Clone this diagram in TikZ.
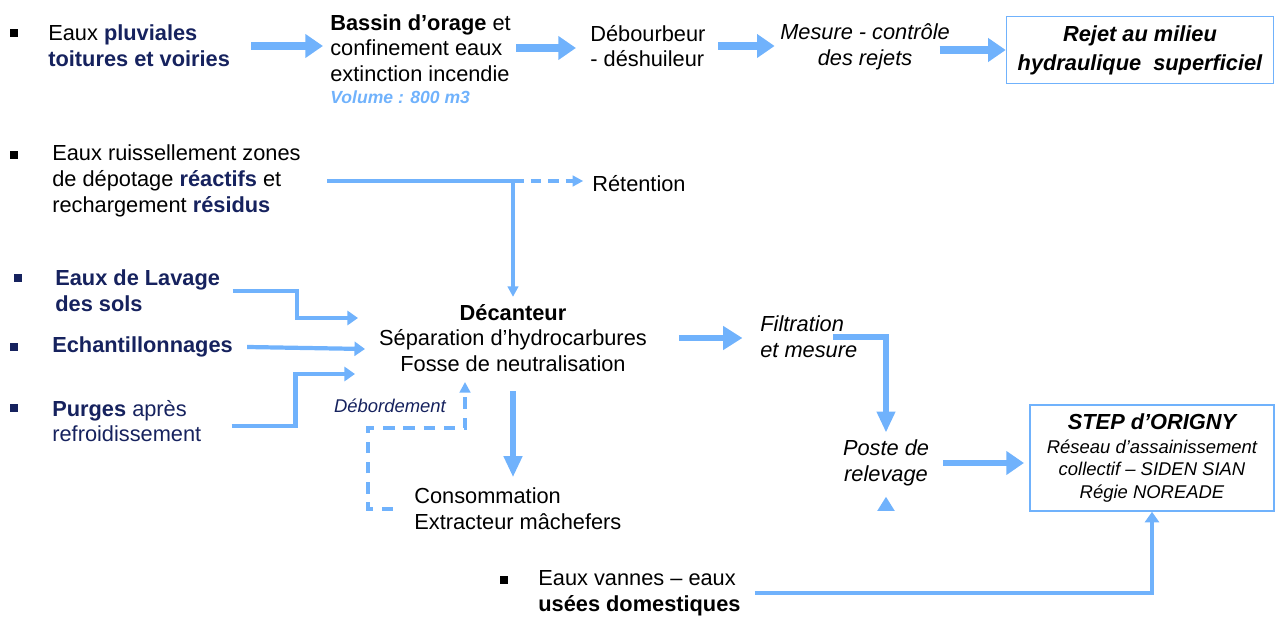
\documentclass[tikz,border=0pt]{standalone}
\usepackage{fontspec}
\setmainfont{Liberation Sans}
\usetikzlibrary{arrows.meta}
\definecolor{flow}{RGB}{112,178,252}
\definecolor{navy}{RGB}{22,34,94}
\tikzset{
    txt/.style={font=\fontsize{12.4}{14.6}\selectfont, align=left, inner sep=0pt, anchor=west},
    ctxt/.style={font=\fontsize{12.4}{14.6}\selectfont\itshape, align=center, inner sep=0pt},
    bul/.style={fill, minimum size=5pt, inner sep=0pt},
    fat/.style={flow, line width=4pt, -{Triangle[length=10pt,width=13pt]}},
    heavy/.style={flow, line width=3pt, -{Triangle[length=12pt,width=10pt]}},
    mid/.style={flow, line width=2.4pt, -{Triangle[length=6pt,width=8pt]}},
    slim/.style={flow, line width=1.8pt, -{Triangle[length=6pt,width=6pt]}},
    box/.style={draw=flow, line width=0.9pt, inner sep=0pt, align=center}
}
\begin{document}
\begin{tikzpicture}[x=0.02cm,y=-0.02cm]
    \useasboundingbox (0,0) rectangle (1275,621);
    % top line
    \node[bul] (b1) at (14,33) {};
    \node[txt] (pluv) at (48,46) {Eaux {\bfseries\color{navy}pluviales}\\{\bfseries\color{navy}toitures et voiries}};
    \node[txt] (bassin) at (330,48) {\textbf{Bassin d'orage} et\\confinement eaux\\extinction incendie};
    \node[txt, font=\fontsize{10}{12}\selectfont\bfseries\itshape, text=flow] (vol) at (330,97) {Volume : 800 m3};
    \node[txt] (debour) at (590,46) {Débourbeur\\- déshuileur};
    \node[ctxt] (mesure) at (865,47) {Mesure - contrôle\\des rejets};
    \node[box, minimum width=5.34cm, minimum height=1.34cm, font=\fontsize{12.4}{16.5}\selectfont\bfseries\itshape] (rejet) at (1140,50) {Rejet au milieu\\hydraulique\ \ superficiel};
    \draw[fat, shorten <=12pt, shorten >=4pt] (pluv.east) -- (pluv.east -| bassin.west);
    \draw[fat, shorten <=3pt, shorten >=8pt] (bassin.east) -- (bassin.east -| debour.west);
    \draw[fat, shorten <=7pt, shorten >=3pt] (debour.east) -- (debour.east -| mesure.west);
    \draw[fat, shorten <=-6pt] (mesure.east |- rejet.west) -- (rejet.west);
    % ruissellement
    \node[bul] (b2) at (14,155) {};
    \node[txt] (ruis) at (52,181) {Eaux ruissellement zones\\de dépotage {\bfseries\color{navy}réactifs} et\\rechargement {\bfseries\color{navy}résidus}};
    \node[txt] (ret) at (592,184) {Rétention};
    \coordinate (jct) at (513,181);
    % decanteur
    \node[ctxt, font=\fontsize{12.4}{14.6}\selectfont] (decant) at (513,338) {\textbf{Décanteur}\\Séparation d'hydrocarbures\\Fosse de neutralisation};
    \draw[flow, line width=1.8pt, shorten <=15pt] (ruis.east) -- (jct);
    \draw[slim, dashed, dash pattern=on 6pt off 4pt] (jct) -- ([xshift=-5pt]jct -| ret.west);
    \draw[slim, shorten >=4pt] (jct) -- (decant.north);
    % inputs
    \node[bul, navy] (b3) at (18,278) {};
    \node[txt, font=\fontsize{12.4}{14.6}\selectfont\bfseries, text=navy] (lavage) at (55,291) {Eaux de Lavage\\des sols};
    \node[bul, navy] (b4) at (14,347) {};
    \node[txt, font=\fontsize{12.4}{14.6}\selectfont\bfseries, text=navy] (echant) at (52,347) {Echantillonnages};
    \node[bul, navy] (b5) at (14,408) {};
    \node[txt, text=navy] (purges) at (52,421) {\textbf{Purges} après\\refroidissement};
    \coordinate (dA) at (358,318);
    \coordinate (dB) at (365,349);
    \coordinate (dC) at (355,374);
    \draw[mid] ([xshift=7pt]lavage.east) -- ++(64,0) |- (dA);
    \draw[mid] ([xshift=8pt]echant.east) -- (dB);
    \draw[mid] ([xshift=17pt,yshift=-3pt]purges.east) -- ++(64,0) |- (dC);
    % consommation
    \node[txt] (conso) at (414,509) {Consommation\\Extracteur mâchefers};
    \draw[heavy, shorten <=11pt, shorten >=6pt] (decant.south) -- (decant.south |- conso.north);
    \coordinate (over) at (465,382);
    \draw[slim, dashed, dash pattern=on 6.5pt off 5pt] ([xshift=-12pt]conso.west) -- ++(-25,0) |- (465,428) -- (over);
    \node[font=\fontsize{10.5}{12}\selectfont\itshape, text=navy] (debord) at (390,406) {Débordement};
    % filtration, poste
    \node[txt, font=\fontsize{12.4}{14.6}\selectfont\itshape] (filt) at (760,337) {Filtration\\et mesure};
    \node[ctxt] (poste) at (886,463) {Poste de\\relevage};
    \node[box, minimum width=4.88cm, minimum height=2.12cm, font=\fontsize{10.5}{12.6}\selectfont\itshape] (step) at (1152,458) {{\fontsize{12.4}{14.6}\selectfont\bfseries STEP d'ORIGNY}\\[1pt]Réseau d'assainissement\\collectif – SIDEN SIAN\\Régie NOREADE};
    \draw[heavy, line width=3.2pt, -{Triangle[length=11pt,width=13pt]}, shorten <=18pt, shorten >=10pt] (decant.east) -- (decant.east -| filt.west);
    \draw[heavy, shorten >=4pt] ([xshift=-14pt]filt.east) -| (poste.north);
    \fill[flow] ([yshift=-6pt]poste.south) -- ++(-5pt,-8pt) -- ++(10pt,0) -- cycle;
    \draw[fat, line width=3.4pt, shorten <=8pt, shorten >=3pt] (poste.east) -- (poste.east -| step.west);
    % eaux vannes
    \node[bul] (b6) at (504,580) {};
    \node[txt] (vannes) at (538,593) {Eaux vannes – eaux\\\textbf{usées domestiques}};
    \draw[mid, line width=2.6pt] ([xshift=8pt]vannes.east) -| (step.south);
\end{tikzpicture}
\end{document}
